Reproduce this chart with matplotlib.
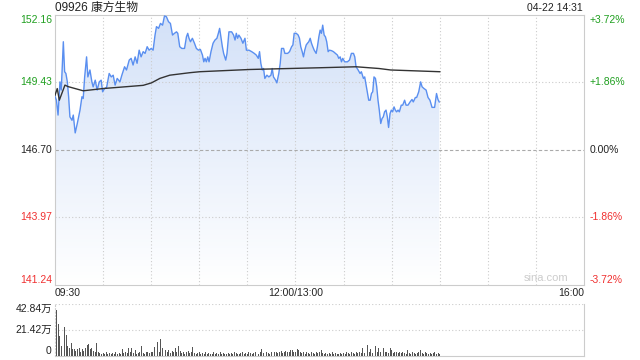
import numpy as np
import matplotlib.pyplot as plt
from matplotlib.colors import LinearSegmentedColormap
import matplotlib.transforms as mtransforms

plt.rcParams['font.family'] = ['Liberation Sans', 'Noto Sans CJK SC', 'DejaVu Sans']

# session minutes since 09:30 (lunch break removed), price
price_t = [0.0, 0.9, 1.9, 3.1, 3.9, 5.2, 6.0, 6.8, 7.7, 8.5, 9.3, 10.6, 11.4, 12.6, 13.9,
           15.6, 16.8, 17.6, 18.5, 19.7, 20.5, 21.8, 23.0, 23.8, 25.1, 26.3, 27.6, 28.8,
           29.7, 30.9, 32.2, 33.8, 35.1, 36.3, 37.5, 38.8, 40.5, 41.7, 43.4, 44.6, 46.3,
           47.5, 48.7, 50.0, 51.2, 52.5, 53.7, 55.0, 56.2, 57.5, 58.7, 60.0, 61.2, 62.4,
           63.3, 64.6, 65.8, 67.1, 68.3, 69.5, 70.8, 72.0, 73.3, 74.5, 75.8, 76.6, 77.8,
           79.1, 80.8, 82.0, 82.8, 83.6, 84.5, 85.7, 87.0, 88.2, 89.5, 90.7, 92.0, 92.8,
           93.6, 94.4, 95.3, 96.1, 97.3, 98.6, 99.8, 101.0, 101.9, 102.7, 103.5, 104.4,
           105.2, 106.5, 107.3, 108.5, 110.2, 111.4, 112.3, 113.1, 113.9, 114.7, 116.0,
           117.2, 118.5, 119.4, 121.0, 122.7, 124.3, 125.6, 126.8, 127.6, 128.4, 129.3,
           130.1, 130.9, 132.2, 133.4, 134.7, 135.5, 136.3, 137.6, 138.4, 139.6, 140.5,
           141.3, 142.6, 143.4, 145.1, 146.3, 147.6, 148.4, 149.2, 150.5, 151.7, 152.5,
           153.3, 154.2, 155.0, 155.8, 156.7, 157.5, 158.3, 159.2, 160.0, 160.8, 161.7,
           162.9, 163.7, 164.6, 165.4, 166.2, 167.0, 167.9, 168.7, 169.5, 170.4, 171.2,
           172.5, 173.7, 175.0, 176.2, 177.0, 177.9, 178.7, 179.5, 180.7, 182.4, 183.7,
           184.9, 186.2, 187.0, 187.8, 189.1, 190.3, 191.1, 192.4, 193.2, 194.1, 194.9,
           195.7, 196.6, 197.4, 198.2, 199.0, 199.9, 200.7, 201.5, 202.3, 203.2, 204.0,
           204.8, 205.6, 206.5, 207.3, 208.1, 209.0, 209.8, 210.6, 211.5, 212.3, 213.1,
           214.0, 214.8, 216.0, 216.9, 218.1, 219.0, 220.2, 221.5, 222.7, 223.5, 224.8,
           225.6, 226.9, 228.1, 229.0, 230.2, 231.5, 232.7, 233.9, 235.2, 236.8, 238.0,
           238.9, 239.7]
price_v = [148.86, 148.70, 148.10, 149.44, 149.11, 151.06, 149.85, 149.78, 149.44, 148.84,
           148.03, 147.89, 148.10, 147.38, 147.76, 148.30, 148.84, 148.77, 149.64, 150.45,
           149.64, 149.92, 149.44, 149.24, 149.51, 149.11, 149.44, 149.51, 149.04, 149.17,
           149.22, 149.78, 149.64, 149.71, 149.31, 149.58, 149.44, 149.71, 150.05, 149.92,
           150.32, 150.39, 150.12, 150.45, 150.19, 150.72, 150.45, 150.66, 150.59, 150.86,
           150.72, 150.79, 150.72, 151.33, 151.67, 151.60, 151.80, 151.73, 152.10, 152.07,
           151.87, 151.80, 151.33, 151.40, 151.46, 151.40, 150.86, 150.79, 150.79, 151.26,
           151.40, 151.20, 151.06, 151.20, 151.00, 150.79, 150.72, 150.75, 150.52, 150.25,
           150.39, 150.25, 150.45, 150.25, 150.66, 151.00, 151.13, 151.20, 151.40, 151.60,
           151.26, 150.86, 150.59, 150.32, 150.59, 151.46, 151.46, 151.33, 151.13, 151.40,
           151.20, 151.33, 151.20, 151.00, 151.20, 150.72, 150.72, 150.66, 150.59, 150.52,
           150.39, 150.66, 150.19, 149.92, 149.98, 149.58, 149.71, 149.64, 149.71, 149.98,
           149.64, 149.51, 149.40, 149.78, 150.19, 150.79, 150.79, 150.59, 150.59, 150.66,
           150.86, 150.93, 151.40, 151.40, 151.33, 151.20, 150.86, 150.66, 150.45, 150.72,
           150.93, 151.00, 151.06, 151.20, 151.00, 150.86, 150.72, 150.59, 150.86, 151.26,
           151.53, 151.40, 151.73, 151.33, 151.26, 151.06, 150.66, 150.72, 150.70, 150.66,
           150.59, 150.52, 150.39, 150.45, 150.25, 150.39, 150.25, 150.25, 150.32, 150.59,
           150.59, 150.45, 150.05, 149.92, 149.78, 149.85, 149.58, 149.64, 149.31, 149.04,
           148.70, 148.70, 148.97, 149.04, 149.64, 149.58, 149.24, 148.70, 148.30, 147.76,
           147.96, 148.03, 148.23, 148.30, 148.03, 147.60, 148.16, 148.30, 148.23, 148.43,
           148.30, 148.23, 148.30, 148.23, 148.50, 148.50, 148.70, 148.50, 148.50, 148.63,
           148.73, 148.63, 148.81, 148.81, 149.04, 149.44, 149.24, 149.17, 149.11, 148.81,
           148.70, 148.41, 148.41, 148.97, 148.73, 148.63]

# average price line
avg_t = [0.0, 1.4, 2.7, 6.2, 8.1, 17.6, 29.9, 55.0, 60.2, 65.4, 71.6, 84.0, 90.3, 121.4,
         165.0, 187.8, 202.1, 209.4, 240.0]
avg_v = [148.90, 149.17, 148.70, 149.31, 149.25, 149.08, 149.17, 149.30, 149.40, 149.58,
         149.71, 149.81, 149.85, 149.94, 150.01, 150.05, 149.98, 149.92, 149.85]

# volume per minute, in 万 shares
vol = [35, 38, 26, 16, 8, 42.4, 24, 17, 8, 6,
       10, 5, 5, 3.5, 5, 6, 3, 5, 4, 6,
       9, 9.5, 5, 6, 3.5, 3, 10, 3, 2, 1.5,
       2, 1.5, 2.5, 1.5, 2, 1, 2, 1.5, 2.5, 1.5,
       2, 1.5, 5, 2, 3, 2, 6.4, 2.5, 6.4, 2,
       4.5, 1.5, 2, 2.5, 7.5, 2, 1.5, 2.5, 3, 2,
       2.5, 3, 7, 4, 11.2, 3, 14, 6.4, 3, 4.7,
       2.5, 4.7, 2, 4, 2.5, 6.4, 3, 7.5, 3.5, 2,
       2.5, 1.5, 3, 4, 2, 2.5, 7, 2, 1.5, 2,
       2.8, 1.5, 2, 1.5, 2.5, 1.5, 2, 1, 1.5, 2.5,
       1.5, 2, 1.5, 2.5, 1.5, 2, 1.5, 1, 2, 1.5,
       2, 1.5, 2.5, 2, 1.5, 1.5, 2, 3, 1.5, 2,
       1.5, 2.5, 2, 1.5, 2, 3, 2, 1.5, 2.5, 5,
       2, 1.5, 2.5, 2, 1.5, 3, 2, 2.5, 3, 2,
       2.5, 3.5, 2, 3, 3.5, 2.5, 3, 4.2, 4.7, 2.5,
       3, 5.6, 4.7, 2.5, 2, 3, 1.5, 2.5, 2, 1.5,
       2.5, 2, 1.5, 3, 2, 2.5, 4.2, 2, 1.5, 2,
       1.5, 2, 1.5, 2.5, 1.5, 2, 1.5, 1, 2, 1.5,
       2, 1.5, 2.5, 2, 1.5, 2.5, 2, 1.5, 3, 2,
       2.5, 2, 6.1, 2, 3, 8.9, 2.5, 5.6, 2, 3,
       7.8, 2.5, 6.1, 3, 11.7, 6.1, 2.5, 3, 2, 6.1,
       4.2, 2, 3.3, 2.5, 2, 3, 2, 2.5, 2, 1.5,
       4.2, 2, 1.5, 2.5, 2, 1.5, 2, 2.5, 4.2, 2,
       1.5, 2.5, 2, 1.5, 2, 1.5, 2, 2.5, 1.5, 2,
       1.5]

price_levels = [152.16, 149.43, 146.70, 143.97, 141.24]
pct_labels = ['+3.72%', '+1.86%', '0.00%', '-1.86%', '-3.72%']
level_colors = ['#1f9f1f', '#1f9f1f', '#222222', '#f03030', '#f03030']
vol_levels = [42.84, 21.42, 0]
vol_labels = ['42.84万', '21.42万', '0']
time_ticks = [0, 150, 330]
time_labels = ['09:30', '12:00/13:00', '16:00']

fig = plt.figure(figsize=(6.4, 3.6), dpi=100)
ax = fig.add_axes([55 / 640, 1 - 285 / 360, 529 / 640, 270.5 / 360])
axv = fig.add_axes([55 / 640, 1 - 355.5 / 360, 529 / 640, 51.5 / 360])

ymin, ymax = price_levels[-1], price_levels[0]

# gradient area under the price line
poly = ax.fill_between(price_t, price_v, ymin, color='none', lw=0)
cmap = LinearSegmentedColormap.from_list('bg', ['#ffffff', '#d3e1f8'])
grad = np.linspace(0, 1, 256).reshape(-1, 1)
img = ax.imshow(grad, extent=[0, 330, ymin, ymax], origin='lower', aspect='auto',
                cmap=cmap, zorder=1)
img.set_clip_path(poly.get_paths()[0], transform=ax.transData)

ax.plot(price_t, price_v, color='#5a8ff0', lw=1, zorder=3)
ax.plot(avg_t, avg_v, color='#333333', lw=1, zorder=3)

ax.set_xlim(0, 330)
ax.set_ylim(ymin, ymax)
ax.set_xticks([])
ax.set_yticks([])
for s in ax.spines.values():
    s.set_color('#cccccc')

for t in range(30, 330, 30):
    ax.axvline(t, color='#cccccc', ls=(0, (1, 2)), lw=0.8, zorder=2)
for lv in price_levels[1:-1]:
    if lv == 146.70:
        ax.axhline(lv, color='#aaaaaa', ls=(0, (3, 2)), lw=0.8, zorder=2)
    else:
        ax.axhline(lv, color='#cccccc', ls=(0, (1, 2)), lw=0.8, zorder=2)

trans = mtransforms.blended_transform_factory(ax.transAxes, ax.transData)
for i, (lv, pl, c) in enumerate(zip(price_levels, pct_labels, level_colors)):
    va = 'top' if i == 0 else ('bottom' if i == len(price_levels) - 1 else 'center')
    ax.text(-0.006, lv, f'{lv:.2f}', transform=trans, ha='right', va=va,
            fontsize=7.5, color=c)
    ax.text(1.01, lv, pl, transform=trans, ha='left', va=va, fontsize=7.5, color=c)

for t, lab in zip(time_ticks, time_labels):
    ha = 'left' if t == 0 else ('right' if t == 330 else 'center')
    ax.text(t, -0.03, lab, transform=mtransforms.blended_transform_factory(ax.transData, ax.transAxes),
            ha=ha, va='center', fontsize=7.5, color='#222222')

fig.text(55 / 640, 1 - 7.5 / 360, '09926 康方生物', ha='left', va='center',
         fontsize=8.5, color='#222222')
fig.text(583 / 640, 1 - 8 / 360, '04-22 14:31', ha='right', va='center',
         fontsize=7.5, color='#222222')
ax.text(0.97, 0.025, 'sina.com', transform=ax.transAxes, ha='right', va='center',
        fontsize=8, color='#cccccc')

# volume panel
axv.bar(np.arange(len(vol)), vol, width=0.6, color='#555555', zorder=3)
axv.set_xlim(0, 330)
axv.set_ylim(0, vol_levels[0])
axv.set_xticks([])
axv.set_yticks([])
axv.spines['top'].set_visible(False)
for k in ['left', 'right', 'bottom']:
    axv.spines[k].set_color('#cccccc')
axv.spines['left'].set_linestyle((0, (1, 2)))
for lv in vol_levels[:2]:
    axv.axhline(lv, color='#cccccc', ls=(0, (1, 2)), lw=0.8, zorder=1)
tv = mtransforms.blended_transform_factory(axv.transAxes, axv.transData)
for i, (lv, lab) in enumerate(zip(vol_levels, vol_labels)):
    va = 'top' if i == 0 else ('bottom' if lv == 0 else 'center')
    axv.text(-0.006, lv, lab, transform=tv, ha='right', va=va, fontsize=7.5,
             color='#222222')

fig.savefig('out.png', dpi=100)
